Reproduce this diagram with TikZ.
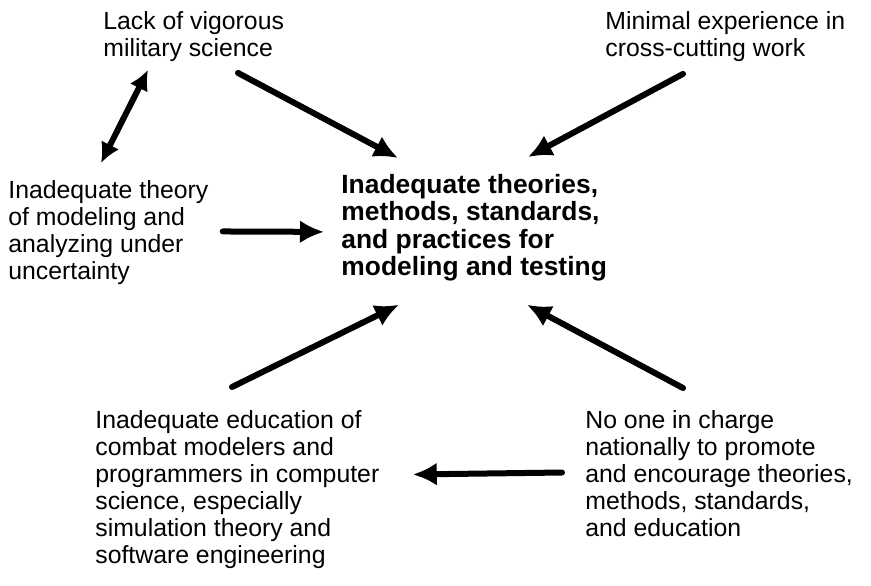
\documentclass[tikz,border=0pt]{standalone}
\usepackage{fontspec}
\setmainfont{Liberation Sans}
\usetikzlibrary{arrows.meta, calc}

\begin{document}
\begin{tikzpicture}[x=0.5pt, y=-0.5pt,
    cause/.style={anchor=north west, inner sep=0pt, align=left, font=\fontsize{12.4}{13.5}\selectfont},
    problem/.style={cause, font=\fontsize{13.2}{13.7}\selectfont\bfseries},
    push/.style={line width=3pt, line cap=round, -{Latex[length=12pt, width=11.5pt]}},
    both/.style={push, {Latex[length=10pt, width=10pt]}-{Latex[length=10pt, width=10pt]}}]
    \useasboundingbox (0,0) rectangle (871,585);

    % Causes on top
    \node[cause] (lack) at (103,11) {Lack of vigorous\\military science};
    \node[cause] (minimal) at (605,11) {Minimal experience in\\cross-cutting work};

    % Central problem and the cause to its left
    \node[cause] (theory) at (8,180) {Inadequate theory\\of modeling and\\analyzing under\\uncertainty};
    \node[problem] (theories) at (341,174) {Inadequate theories,\\methods, standards,\\and practices for\\modeling and testing};

    % Causes below
    \node[cause] (education) at (95,410) {Inadequate education of\\combat modelers and\\programmers in computer\\science, especially\\simulation theory and\\software engineering};
    \node[cause] (charge) at (585,410) {No one in charge\\nationally to promote\\and encourage theories,\\methods, standards,\\and education};

    % Arrows into the central problem
    \draw[push] ($(lack.south west)+(135,11)$) -- ($(theories.north west)+(57,-16)$);
    \draw[push] ($(minimal.south west)+(78,12)$) -- ($(theories.north west)+(187,-17)$);
    \draw[push] ($(theory.east)+(14,-1)$) -- ($(theories.west)+(-17,4)$);
    \draw[push] ($(education.north west)+(137,-23)$) -- ($(theories.south west)+(58,23)$);
    \draw[push] ($(charge.north west)+(98,-22)$) -- ($(theories.south west)+(186,23)$);

    % Links between causes
    \draw[both] ($(lack.south west)+(45,8)$) -- ($(theory.north west)+(93,-17)$);
    \draw[push] ($(charge.west)+(-23,-1)$) -- ($(education.east)+(33,-15)$);
\end{tikzpicture}
\end{document}
